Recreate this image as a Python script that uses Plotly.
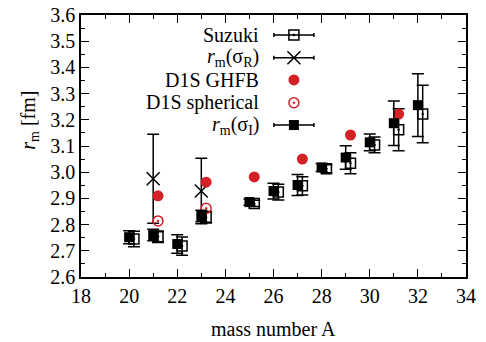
import plotly.graph_objects as go

# r_m(sigma_I) data
A_I = [20, 21, 22, 23, 25, 26, 27, 28, 29, 30, 31, 32]
rm_I = [2.752, 2.760, 2.726, 2.833, 2.886, 2.928, 2.951, 3.018, 3.056, 3.114, 3.187, 3.256]
err_I = [0.025, 0.022, 0.035, 0.022, 0.012, 0.030, 0.040, 0.015, 0.045, 0.032, 0.085, 0.120]

# Suzuki data (plotted slightly shifted)
A_S = [20.2, 21.2, 22.2, 23.2, 25.2, 26.2, 27.2, 28.2, 29.2, 30.2, 31.2, 32.2]
rm_S = [2.745, 2.754, 2.718, 2.828, 2.881, 2.924, 2.948, 3.013, 3.034, 3.104, 3.162, 3.222]
err_S = [0.030, 0.022, 0.035, 0.022, 0.012, 0.030, 0.035, 0.015, 0.040, 0.030, 0.080, 0.110]

# r_m(sigma_R)
A_R = [21, 23]
rm_R = [2.975, 2.928]
err_R = [0.170, 0.125]

# D1S GHFB
A_G = [21.2, 23.2, 25.2, 27.2, 29.2, 31.2]
rm_G = [2.910, 2.962, 2.982, 3.050, 3.142, 3.222]

# D1S spherical
A_SP = [21.2, 23.2]
rm_SP = [2.814, 2.862]

legend_labels = ["Suzuki", "<i>r</i><sub>m</sub>(σ<sub>R</sub>)", "D1S GHFB",
                 "D1S spherical", "<i>r</i><sub>m</sub>(σ<sub>I</sub>)"]

RED = '#d42027'
FONT = "Liberation Serif, Times New Roman, serif"

fig = go.Figure()


def ebar(err, w=6):
    return dict(type='data', array=err, visible=True, color='black', thickness=1.5, width=w)


fig.add_trace(go.Scatter(
    x=A_S, y=rm_S, mode='markers', error_y=ebar(err_S),
    marker=dict(symbol='square-open-dot', size=10, color='black', line=dict(width=1.5)),
))
fig.add_trace(go.Scatter(
    x=A_R, y=rm_R, mode='markers', error_y=ebar(err_R),
    marker=dict(symbol='x-thin-open', size=13, color='black', line=dict(width=1.5, color='black')),
))
fig.add_trace(go.Scatter(
    x=A_G, y=rm_G, mode='markers',
    marker=dict(symbol='circle', size=11, color=RED),
))
fig.add_trace(go.Scatter(
    x=A_SP, y=rm_SP, mode='markers',
    marker=dict(symbol='circle-open-dot', size=10, color=RED, line=dict(width=1.5)),
))
fig.add_trace(go.Scatter(
    x=A_I, y=rm_I, mode='markers', error_y=ebar(err_I),
    marker=dict(symbol='square', size=10, color='black'),
))

# hand-made key: text on the left of the symbols, gnuplot style
key_x = 0.553
key_ys = [0.924, 0.837, 0.752, 0.665, 0.580]
key_styles = [
    dict(symbol='square-open-dot', size=10, color='black', line=dict(width=1.5)),
    dict(symbol='x-thin-open', size=13, color='black', line=dict(width=1.5, color='black')),
    dict(symbol='circle', size=11, color=RED),
    dict(symbol='circle-open-dot', size=10, color=RED, line=dict(width=1.5)),
    dict(symbol='square', size=10, color='black'),
]
key_err = [True, True, False, False, True]
for ky, st, has_err, lab in zip(key_ys, key_styles, key_err, legend_labels):
    fig.add_trace(go.Scatter(
        x=[key_x], y=[ky], xaxis='x2', yaxis='y2', mode='markers', marker=st,
        error_x=dict(type='constant', value=0.052, color='black', thickness=1.5, width=2, visible=has_err),
    ))
    fig.add_annotation(x=0.4675, y=ky, xref='x2', yref='y2', text=lab, showarrow=False,
                       xanchor='right', yanchor='middle', font=dict(family=FONT, size=20, color='black'))

axis_common = dict(
    showline=True, linecolor='black', linewidth=1.5, mirror='ticks',
    ticks='inside', ticklen=8, tickwidth=1, tickcolor='black',
    showgrid=False, zeroline=False, ticklabeloverflow='allow', automargin=False,
    tickfont=dict(family=FONT, size=20, color='black'),
)

fig.update_layout(
    width=486, height=342,
    plot_bgcolor='white', paper_bgcolor='white',
    showlegend=False,
    margin=dict(l=81, r=20, t=15, b=65),
    xaxis=dict(range=[18, 34], dtick=2, tick0=18,
               minor=dict(dtick=1, ticks='inside', ticklen=4, tickcolor='black'), **axis_common),
    yaxis=dict(range=[2.6, 3.6], dtick=0.1, tick0=2.6, tickformat='.1f',
               minor=dict(dtick=0.05, ticks='inside', ticklen=4, tickcolor='black'), **axis_common),
    xaxis2=dict(overlaying='x', range=[0, 1], visible=False, fixedrange=True),
    yaxis2=dict(overlaying='y', range=[0, 1], visible=False, fixedrange=True),
    font=dict(family=FONT, size=20, color='black'),
)

fig.add_annotation(x=0.5, y=-0.20, xref='paper', yref='paper', text="mass number A",
                   showarrow=False, xanchor='center', yanchor='middle',
                   font=dict(family=FONT, size=20, color='black'))
fig.add_annotation(x=-0.1325, y=0.60, xref='paper', yref='paper', text="<i>r</i><sub>m</sub> [fm]",
                   showarrow=False, textangle=-90, xanchor='center', yanchor='middle',
                   font=dict(family=FONT, size=20, color='black'))

# drop the default 8px body margin so the figure fills the window
fig.write_html("out.html", config={'displayModeBar': False},
               post_script="document.body.style.margin='0';")
